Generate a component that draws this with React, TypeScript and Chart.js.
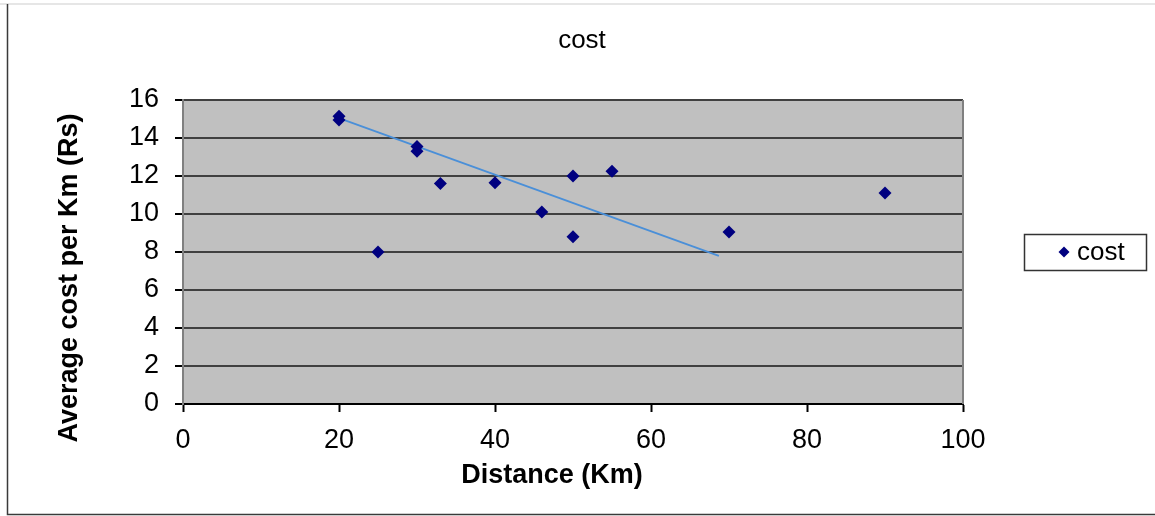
import React, { useEffect, useRef } from "react";
import { Chart, registerables } from "chart.js";

Chart.register(...registerables);

const chartTitle = "cost";
const seriesName = "cost";
const xAxisTitle = "Distance (Km)";
const yAxisTitle = "Average cost per Km (Rs)";

const distance = [20, 20, 25, 30, 30, 33, 40, 46, 50, 50, 55, 70, 90];
const costPerKm = [15.15, 14.95, 8, 13.55, 13.3, 11.6, 11.65, 10.1, 12, 8.8, 12.25, 9.05, 11.1];

const trendX = [20, 68.7];
const trendY = [15.05, 7.8];

const xTicks = [0, 20, 40, 60, 80, 100];
const yTicks = [0, 2, 4, 6, 8, 10, 12, 14, 16];

const FONT = "'Liberation Sans', Arial, sans-serif";

const decorPlugin = {
  id: "decor",
  beforeDraw(chart: any) {
    const { ctx, chartArea } = chart;
    ctx.save();
    ctx.fillStyle = "#ffffff";
    ctx.fillRect(0, 0, chart.width, chart.height);
    ctx.fillStyle = "#C0C0C0";
    ctx.fillRect(chartArea.left, chartArea.top, chartArea.right - chartArea.left, chartArea.bottom - chartArea.top);
    ctx.strokeStyle = "#e6e6e6";
    ctx.lineWidth = 2;
    ctx.beginPath();
    ctx.moveTo(0, 4);
    ctx.lineTo(1155, 4);
    ctx.stroke();
    ctx.strokeStyle = "#3a3a3a";
    ctx.lineWidth = 1.5;
    ctx.beginPath();
    ctx.moveTo(7.5, 4);
    ctx.lineTo(7.5, 514.5);
    ctx.lineTo(1155, 514.5);
    ctx.stroke();
    ctx.restore();
  },
  afterDraw(chart: any) {
    const { ctx, chartArea } = chart;
    ctx.save();
    ctx.strokeStyle = "#808080";
    ctx.lineWidth = 2;
    ctx.beginPath();
    ctx.moveTo(chartArea.right, chartArea.top);
    ctx.lineTo(chartArea.right, chartArea.bottom);
    ctx.stroke();
    // chart title
    ctx.fillStyle = "#000";
    ctx.font = `26px ${FONT}`;
    ctx.textAlign = "center";
    ctx.textBaseline = "middle";
    ctx.fillText(chartTitle, 582, 41);
    // axis titles
    ctx.font = `bold 27px ${FONT}`;
    ctx.fillText(xAxisTitle, 552, 476);
    ctx.save();
    ctx.translate(70, 278);
    ctx.rotate(-Math.PI / 2);
    ctx.font = `bold 27px ${FONT}`;
    ctx.fillText(yAxisTitle, 0, 0);
    ctx.restore();
    // legend
    ctx.fillStyle = "#fff";
    ctx.fillRect(1024, 234, 122, 36);
    ctx.strokeStyle = "#333";
    ctx.lineWidth = 1.5;
    ctx.strokeRect(1024.5, 234.5, 122, 36);
    ctx.fillStyle = "#000080";
    ctx.beginPath();
    ctx.moveTo(1064, 246.5);
    ctx.lineTo(1069.5, 252);
    ctx.lineTo(1064, 257.5);
    ctx.lineTo(1058.5, 252);
    ctx.closePath();
    ctx.fill();
    ctx.fillStyle = "#000";
    ctx.font = `26px ${FONT}`;
    ctx.textAlign = "left";
    ctx.fillText(seriesName, 1077, 253);
    ctx.restore();
  },
};

export default function App() {
  const ref = useRef<HTMLCanvasElement | null>(null);

  useEffect(() => {
    if (!ref.current) return;
    const chart = new Chart(ref.current, {
      type: "scatter",
      data: {
        datasets: [
          {
            label: seriesName,
            data: distance.map((x, i) => ({ x, y: costPerKm[i] })),
            pointStyle: "rectRot",
            pointRadius: 6.5,
            backgroundColor: "#000080",
            borderColor: "#000080",
            borderWidth: 0,
            order: 1,
          },
          {
            label: "trend",
            type: "line",
            data: trendX.map((x, i) => ({ x, y: trendY[i] })),
            borderColor: "#4a8fd8",
            borderWidth: 1.8,
            pointRadius: 0,
            fill: false,
            order: 2,
          } as any,
        ],
      },
      options: {
        responsive: false,
        animation: false,
        layout: { padding: { left: 8, right: 192, top: 100, bottom: 0 } },
        plugins: {
          legend: { display: false },
          title: { display: false },
          tooltip: { enabled: false },
        },
        scales: {
          x: {
            type: "linear",
            min: 0,
            max: 100,
            afterBuildTicks: (s: any) => {
              s.ticks = xTicks.map((v) => ({ value: v }));
            },
            afterFit: (s: any) => {
              s.height = 112;
            },
            ticks: {
              font: { family: FONT, size: 27 },
              color: "#000",
              padding: 12,
              maxRotation: 0,
            },
            grid: {
              drawOnChartArea: false,
              drawTicks: true,
              tickLength: 8,
              tickColor: "#000",
              tickWidth: 2,
            },
            border: { display: true, color: "#000", width: 2 },
            title: { display: false },
          },
          y: {
            type: "linear",
            min: 0,
            max: 16,
            afterBuildTicks: (s: any) => {
              s.ticks = yTicks.map((v) => ({ value: v }));
            },
            afterFit: (s: any) => {
              s.width = 175;
            },
            ticks: {
              font: { family: FONT, size: 27 },
              color: "#000",
              padding: 16,
            },
            grid: {
              color: "#404040",
              lineWidth: 2,
              drawTicks: true,
              tickLength: 8,
              tickColor: "#000",
              tickWidth: 2,
            },
            border: { display: true, color: "#808080", width: 2 },
            title: { display: false },
          },
        },
      },
      plugins: [decorPlugin],
    });
    return () => chart.destroy();
  }, []);

  return (
    <div style={{ position: "fixed", left: 0, top: 0, width: 1155, height: 516, background: "#fff" }}>
      <canvas ref={ref} width={1155} height={516} style={{ display: "block", width: 1155, height: 516 }} />
    </div>
  );
}
